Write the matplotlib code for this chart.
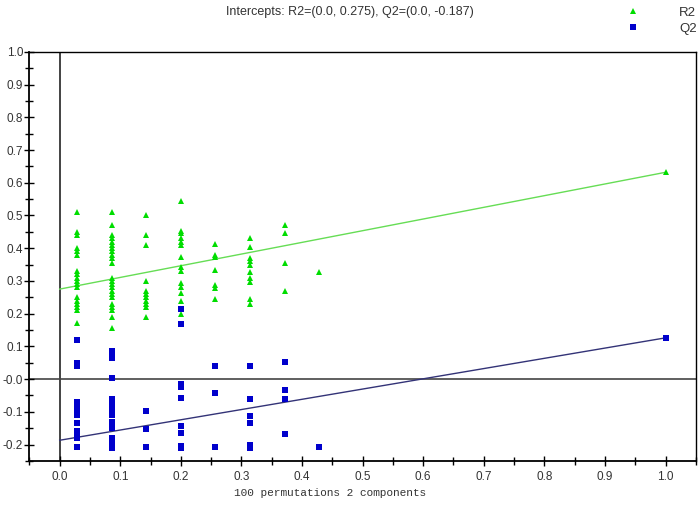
import matplotlib
matplotlib.use("Agg")
import matplotlib.pyplot as plt
from matplotlib.ticker import FixedLocator, FixedFormatter, MultipleLocator
import matplotlib.lines as mlines

# ================================
# DATA
# ================================
perm_x = [1/35, 3/35, 5/35, 7/35, 9/35, 11/35, 13/35, 15/35]

r2_perm = [
    [0.51, 0.45, 0.44, 0.40, 0.39, 0.38, 0.33, 0.32, 0.31, 0.30, 0.29, 0.28, 0.25, 0.24, 0.23, 0.22, 0.21, 0.17],
    [0.51, 0.47, 0.44, 0.43, 0.42, 0.41, 0.40, 0.39, 0.38, 0.37, 0.355, 0.31, 0.30, 0.29, 0.28, 0.27,
     0.26, 0.25, 0.23, 0.22, 0.21, 0.19, 0.155],
    [0.50, 0.44, 0.41, 0.30, 0.27, 0.26, 0.25, 0.24, 0.23, 0.22, 0.19],
    [0.543, 0.452, 0.445, 0.43, 0.42, 0.41, 0.374, 0.343, 0.33, 0.293, 0.282, 0.263, 0.239, 0.20],
    [0.412, 0.379, 0.374, 0.333, 0.287, 0.279, 0.245],
    [0.432, 0.405, 0.37, 0.36, 0.35, 0.328, 0.31, 0.298, 0.245, 0.23],
    [0.471, 0.445, 0.354, 0.27],
    [0.328],
]

q2_perm = [
    [0.119, 0.05, 0.04, -0.07, -0.08, -0.09, -0.11, -0.135, -0.16, -0.17, -0.18, -0.209],
    [0.085, 0.075, 0.065, 0.003, -0.06, -0.07, -0.08, -0.09, -0.10, -0.11, -0.13, -0.14, -0.15,
     -0.18, -0.19, -0.20, -0.21],
    [-0.098, -0.154, -0.209],
    [0.213, 0.167, -0.015, -0.025, -0.057, -0.144, -0.164, -0.205, -0.212],
    [0.04, -0.044, -0.209],
    [0.04, -0.061, -0.112, -0.134, -0.20, -0.21],
    [0.053, -0.034, -0.061, -0.168],
    [-0.209],
]

orig_x = 1.0
r2_orig = 0.632
q2_orig = 0.126
r2_intercept = 0.275
q2_intercept = -0.187

x_ticks = [0.0, 0.1, 0.2, 0.3, 0.4, 0.5, 0.6, 0.7, 0.8, 0.9, 1.0]
x_tick_labels = ["0.0", "0.1", "0.2", "0.3", "0.4", "0.5", "0.6", "0.7", "0.8", "0.9", "1.0"]
y_ticks = [1.0, 0.9, 0.8, 0.7, 0.6, 0.5, 0.4, 0.3, 0.2, 0.1, 0.0, -0.1, -0.2]
y_tick_labels = ["1.0", "0.9", "0.8", "0.7", "0.6", "0.5", "0.4", "0.3", "0.2", "0.1", "-0.0", "-0.1", "-0.2"]

# ================================
# PLOT
# ================================
plt.rcParams["font.family"] = ["Liberation Sans", "DejaVu Sans"]

fig = plt.figure(figsize=(7.0, 5.19), dpi=100)
ax = fig.add_axes([0.042, 0.112, 0.952, 0.788])

green = "#00dd00"
blue = "#0000cc"

# reference lines through origin
ax.axvline(0, color="#222222", linewidth=1.2, zorder=1)
ax.axhline(0, color="#444444", linewidth=1.2, zorder=1)

# regression lines
ax.plot([0, orig_x], [r2_intercept, r2_orig], color="#66dd55", linewidth=1.0, zorder=2)
ax.plot([0, orig_x], [q2_intercept, q2_orig], color="#333377", linewidth=1.0, zorder=2)

for xv, r2vals, q2vals in zip(perm_x, r2_perm, q2_perm):
    ax.plot([xv] * len(r2vals), r2vals, linestyle="None", marker="^", color=green,
            markersize=4.8, markeredgewidth=0, zorder=3)
    ax.plot([xv] * len(q2vals), q2vals, linestyle="None", marker="s", color=blue,
            markersize=4.5, markeredgewidth=0, zorder=3)

ax.plot([orig_x], [r2_orig], linestyle="None", marker="^", color=green, markersize=4.8,
        markeredgewidth=0, zorder=3)
ax.plot([orig_x], [q2_orig], linestyle="None", marker="s", color=blue, markersize=4.5,
        markeredgewidth=0, zorder=3)

ax.set_xlim(-0.05, 1.05)
ax.set_ylim(-0.25, 1.0)

ax.xaxis.set_major_locator(FixedLocator(x_ticks))
ax.xaxis.set_major_formatter(FixedFormatter(x_tick_labels))
ax.xaxis.set_minor_locator(MultipleLocator(0.05))
ax.yaxis.set_major_locator(FixedLocator(y_ticks))
ax.yaxis.set_major_formatter(FixedFormatter(y_tick_labels))
ax.yaxis.set_minor_locator(MultipleLocator(0.05))

ax.tick_params(axis="both", which="major", direction="inout", length=7, width=1.0,
               labelsize=8.5, labelcolor="#333333")
ax.tick_params(axis="both", which="minor", direction="inout", length=6, width=1.0)
ax.tick_params(axis="x", which="major", pad=4)
ax.tick_params(axis="y", which="major", pad=1)

for side in ["left", "bottom"]:
    ax.spines[side].set_linewidth(1.3)
for side in ["top", "right"]:
    ax.spines[side].set_linewidth(1.0)

# title / labels
fig.text(0.5, 0.988, "Intercepts: R2=(0.0, 0.275), Q2=(0.0, -0.187)", ha="center", va="top",
         fontsize=9, color="#333333")
fig.text(0.471, 0.05, "100 permutations 2 components", ha="center", va="center",
         fontsize=8, family=["Liberation Mono", "DejaVu Sans Mono"], color="#333333")

# legend
handles = [
    mlines.Line2D([], [], color=green, marker="^", markersize=4.8, linestyle="None", markeredgewidth=0),
    mlines.Line2D([], [], color=blue, marker="s", markersize=4.5, linestyle="None", markeredgewidth=0),
]
fig.legend(handles, ["R2", "Q2"], loc="upper right", bbox_to_anchor=(1.005, 1.0),
           frameon=False, fontsize=9.5, handletextpad=2.5, labelspacing=0.3,
           borderaxespad=0.1, labelcolor="#333333")

fig.savefig("out.png", dpi=100, facecolor="white")
